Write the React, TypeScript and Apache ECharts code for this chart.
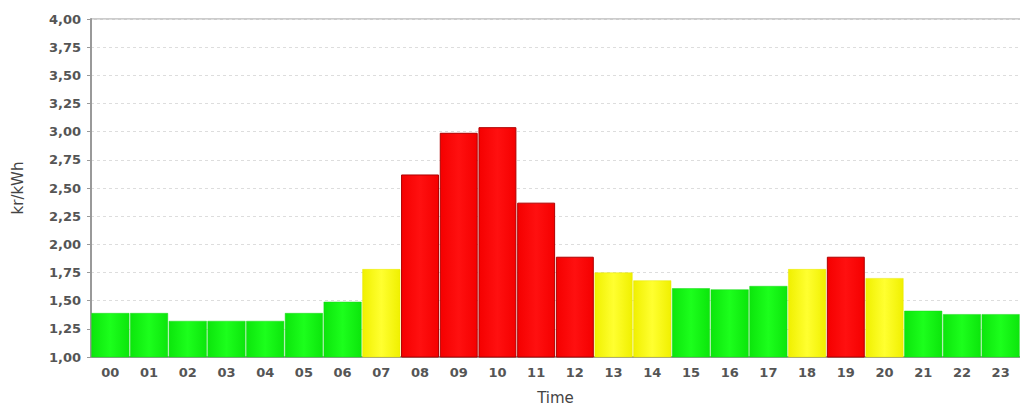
import React, { useEffect, useRef } from "react";
import * as echarts from "echarts";

const hours = ["00","01","02","03","04","05","06","07","08","09","10","11","12","13","14","15","16","17","18","19","20","21","22","23"];
const prices = [1.39,1.39,1.32,1.32,1.32,1.39,1.49,1.78,2.62,2.99,3.04,2.37,1.89,1.75,1.68,1.61,1.60,1.63,1.78,1.89,1.70,1.41,1.38,1.38];
const levels = ["low","low","low","low","low","low","low","mid","high","high","high","high","high","mid","mid","low","low","low","mid","high","mid","low","low","low"];
const yTicks = [1, 4, 0.25];

const grad = (edge: string, mid: string) =>
  new echarts.graphic.LinearGradient(0, 0, 1, 0, [
    { offset: 0, color: edge },
    { offset: 0.5, color: mid },
    { offset: 1, color: edge },
  ]);

const styleFor = (lvl: string) => {
  if (lvl === "high") return { color: grad("#f50000", "#ff1010"), borderColor: "#b00000", borderWidth: 1 };
  if (lvl === "mid") return { color: grad("#f0f000", "#ffff30"), borderColor: "#e8e800", borderWidth: 0.5 };
  return { color: grad("#0ce60c", "#1cff1c"), borderColor: "#18d818", borderWidth: 0.5 };
};

export default function App() {
  const ref = useRef<HTMLDivElement>(null);
  useEffect(() => {
    const chart = echarts.init(ref.current!, null, { renderer: "svg" });
    const font = "DejaVu Sans";
    chart.setOption({
      animation: false,
      grid: { left: 91, right: 0, top: 19, bottom: 51, outerBoundsMode: "none", containLabel: false },
      xAxis: {
        type: "category",
        data: hours,
        name: "Time",
        nameLocation: "middle",
        nameGap: 33,
        nameTextStyle: { fontFamily: font, fontSize: 15, color: "#444" },
        axisLine: { lineStyle: { color: "#999", width: 2 } },
        axisTick: { show: false },
        axisLabel: { fontFamily: font, fontSize: 13, fontWeight: "bold", color: "#555", margin: 9, interval: 0 },
      },
      yAxis: {
        type: "value",
        min: yTicks[0],
        max: yTicks[1],
        interval: yTicks[2],
        name: "kr/kWh",
        nameLocation: "middle",
        nameGap: 66,
        nameTextStyle: { fontFamily: font, fontSize: 15, color: "#444" },
        axisLine: { show: true, lineStyle: { color: "#999", width: 2 } },
        axisTick: { show: true, length: 4, lineStyle: { color: "#999" } },
        axisLabel: {
          fontFamily: font,
          fontSize: 13,
          fontWeight: "bold",
          color: "#555",
          margin: 10,
          formatter: (v: number) => v.toFixed(2).replace(".", ","),
        },
        splitLine: {
          show: true,
          lineStyle: { color: "#ddd", type: [3, 3] },
        },
      },
      series: [
        {
          type: "bar",
          barCategoryGap: "2%",
          data: prices.map((v, i) => ({ value: v, itemStyle: styleFor(levels[i]) })),
        },
      ],
      graphic: [
        { type: "line", shape: { x1: 91, y1: 19, x2: 1020, y2: 19 }, style: { stroke: "#bbb", lineWidth: 1.5 } },
      ],
    });
    return () => chart.dispose();
  }, []);
  return (
    <div
      ref={ref}
      style={{ position: "fixed", left: 0, top: 0, width: 1020, height: 408, background: "#fff" }}
    />
  );
}
